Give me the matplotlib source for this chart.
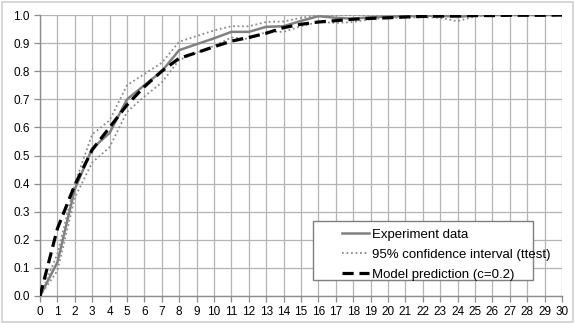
import matplotlib
matplotlib.use("Agg")
import matplotlib.pyplot as plt
from matplotlib.patches import Rectangle

plt.rcParams['font.family'] = ['Liberation Sans Narrow', 'Liberation Sans', 'DejaVu Sans']

# data
steps = list(range(31))
experiment = [0.0, 0.12, 0.38, 0.525, 0.58, 0.70, 0.75, 0.80, 0.875, 0.896, 0.917,
              0.94, 0.94, 0.958, 0.96, 0.979, 0.996, 0.99, 0.987, 0.992, 0.994,
              0.996, 0.997, 0.998, 0.993, 0.999, 1.0, 1.0, 1.0, 1.0, 1.0]
ci_upper = [0.0, 0.15, 0.40, 0.575, 0.625, 0.75, 0.79, 0.83, 0.905, 0.925, 0.945,
            0.96, 0.96, 0.975, 0.977, 0.99, 1.0, 1.0, 1.0, 1.0, 1.0,
            1.0, 1.0, 1.0, 1.0, 1.0, 1.0, 1.0, 1.0, 1.0, 1.0]
ci_lower = [0.0, 0.09, 0.35, 0.475, 0.53, 0.655, 0.71, 0.76, 0.84, 0.865, 0.89,
            0.92, 0.915, 0.94, 0.94, 0.96, 0.975, 0.972, 0.975, 0.985, 0.99,
            0.99, 0.992, 0.99, 0.978, 0.995, 1.0, 1.0, 1.0, 1.0, 1.0]
model = [0.0, 0.24, 0.395, 0.52, 0.60, 0.68, 0.745, 0.80, 0.846, 0.866, 0.887,
         0.907, 0.92, 0.935, 0.955, 0.967, 0.975, 0.98, 0.985, 0.988, 0.99,
         0.993, 0.995, 0.996, 0.997, 0.998, 0.998, 0.999, 0.999, 0.999, 1.0]

W, H = 575, 323
fig = plt.figure(figsize=(W / 100, H / 100), dpi=100)
ax = fig.add_axes([40 / W, 27 / H, 522 / W, 281 / H])

# outer frame of the chart
fig.patches.append(Rectangle((0.003, 0.004), 0.994, 0.99, transform=fig.transFigure,
                             fill=False, edgecolor='#d0d0d0', linewidth=1.2))

ax.plot(steps, experiment, color='#808080', linewidth=1.8, label='Experiment data', zorder=3)
ax.plot(steps, ci_upper, color='#8c8c8c', linewidth=1.3, linestyle=(0, (1, 1.5)),
        label='95% confidence interval (ttest)', zorder=3)
ax.plot(steps, ci_lower, color='#8c8c8c', linewidth=1.3, linestyle=(0, (1, 1.5)), zorder=3)
ax.plot(steps, model, color='black', linewidth=2.3, linestyle=(0, (3.5, 1.8)),
        label='Model prediction (c=0.2)', zorder=4)

ax.set_xlim(0, 30)
ax.set_ylim(0, 1.0)
ax.set_xticks(steps)
ax.set_yticks([i / 10 for i in range(11)])
ax.set_yticklabels([f"{i / 10:.1f}" for i in range(11)])
ax.grid(True, color='#b4b4b4', linewidth=0.9)
ax.set_axisbelow(True)

for side in ['top', 'right']:
    ax.spines[side].set_visible(False)
for side in ['left', 'bottom']:
    ax.spines[side].set_color('#8c8c8c')
    ax.spines[side].set_linewidth(1.0)
ax.tick_params(axis='both', labelsize=8.5, colors='#8c8c8c', labelcolor='black', length=4, width=0.9)
ax.tick_params(axis='x', pad=3)

# legend box drawn by hand (extra room left of the handles, as in the original)
box = Rectangle((313 / W, 1 - 280 / H), 220 / W, 59 / H, transform=fig.transFigure,
                facecolor='white', edgecolor='#7f7f7f', linewidth=1.0, zorder=5)
ax.add_patch(box)
leg = ax.legend(loc='upper left', bbox_to_anchor=(331 / W, 1 - 218 / H),
                bbox_transform=fig.transFigure, fontsize=9.5, frameon=False,
                handlelength=2.1, handletextpad=0.2, borderpad=0.3, labelspacing=0.6)
leg.set_zorder(6)

fig.savefig("out.png", dpi=100)
